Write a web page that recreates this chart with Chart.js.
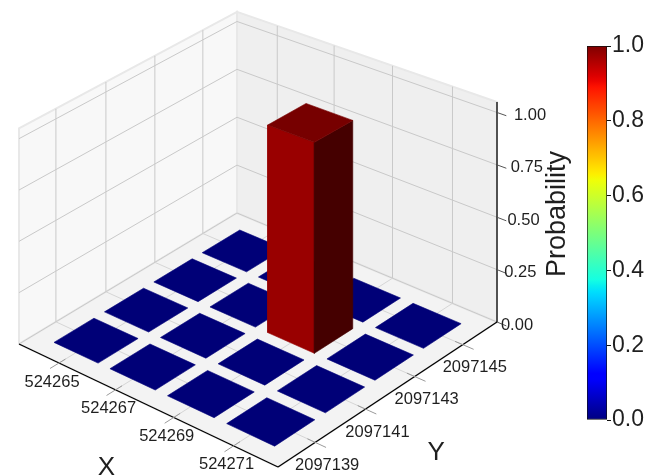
<!DOCTYPE html>
<html>
<head>
<meta charset="utf-8">
<title>Measured probability distribution</title>
<script src="https://cdn.jsdelivr.net/npm/chart.js@4.4.1/dist/chart.umd.min.js"></script>
<style>
  html, body { margin: 0; padding: 0; background: #ffffff; }
  #wrap { position: relative; width: 649px; height: 475px; overflow: hidden; background: #ffffff; }
  #main { position: absolute; left: 0; top: 0; }
  #cbar { position: absolute; left: 580px; top: 0; }
</style>
</head>
<body>
<div id="wrap">
  <canvas id="main" width="649" height="475"></canvas>
  <canvas id="cbar" width="69" height="475"></canvas>
</div>
<script>
// ---------------- data ----------------
const xStates = [524265, 524267, 524269, 524271];
const yStates = [2097139, 2097141, 2097143, 2097145];
// probability of each X state, one row per Y state
const probAtY2097139 = [0, 0, 0, 0];
const probAtY2097141 = [0, 0, 0, 0];
const probAtY2097143 = [0, 0, 1.0, 0];
const probAtY2097145 = [0, 0, 0, 0];
const probRows = [probAtY2097139, probAtY2097141, probAtY2097143, probAtY2097145];
const zTicks = [0, 0.25, 0.5, 0.75, 1.0];
const cbarTicks = [0, 0.2, 0.4, 0.6, 0.8, 1.0];

// ---------------- layout & style ----------------
const barWidth = 1.58;                      // footprint of each column, in state units
const xLim = [524263.55, 524272.45];
const yLim = [2097137.55, 2097146.45];
const zLim = [0, 1.05];
const cbarRange = [0, 1];
// floor corners of the 3D box in plot units: (xmin,ymin) (xmax,ymin) (xmax,ymax) (xmin,ymax)
const floorL = [19, 344], floorB = [278, 467], floorR = [497, 322], floorK = [237, 213];
const heightAtR = 220;                      // length of the z axis at the (xmax,ymax) corner
const depthPower = 1.5;
const FONT = '"Liberation Sans", Arial, Helvetica, sans-serif';
const TEXT = '#1f1f1f';

// jet colour map
const jetR = [[0, 0], [0.35, 0], [0.66, 1], [0.89, 1], [1, 0.5]];
const jetG = [[0, 0], [0.125, 0], [0.375, 1], [0.64, 1], [0.91, 0], [1, 0]];
const jetB = [[0, 0.5], [0.11, 1], [0.34, 1], [0.65, 0], [1, 0]];
function lerpTable(tab, t) {
  for (let i = 1; i < tab.length; i++) {
    if (t <= tab[i][0]) {
      const [t0, v0] = tab[i - 1], [t1, v1] = tab[i];
      return v0 + (v1 - v0) * (t - t0) / (t1 - t0);
    }
  }
  return tab[tab.length - 1][1];
}
function jet(t, shade = 1) {
  t = Math.min(1, Math.max(0, t));
  const c = [jetR, jetG, jetB].map(tab => Math.round(Math.min(255, 255 * lerpTable(tab, t) * shade)));
  return `rgb(${c[0]},${c[1]},${c[2]})`;
}
const faceShade = { top: 0.93, front: 1.2, side: 0.54 };

// ---------------- 3D projection ----------------
function squareToQuad(p0, p1, p2, p3) {
  const [x0, y0] = p0, [x1, y1] = p1, [x2, y2] = p2, [x3, y3] = p3;
  const dx1 = x1 - x2, dx2 = x3 - x2, dx3 = x0 - x1 + x2 - x3;
  const dy1 = y1 - y2, dy2 = y3 - y2, dy3 = y0 - y1 + y2 - y3;
  const den = dx1 * dy2 - dx2 * dy1;
  const g = (dx3 * dy2 - dx2 * dy3) / den;
  const h = (dx1 * dy3 - dx3 * dy1) / den;
  return { a: x1 - x0 + g * x1, b: x3 - x0 + h * x3, c: x0,
           d: y1 - y0 + g * y1, e: y3 - y0 + h * y3, f: y0, g, h };
}
const H = squareToQuad(floorL, floorB, floorR, floorK);
const heightScale = heightAtR * Math.pow(1 + H.g + H.h, depthPower);

function project(x, y, z) {
  const u = (x - xLim[0]) / (xLim[1] - xLim[0]);
  const v = (y - yLim[0]) / (yLim[1] - yLim[0]);
  const w = H.g * u + H.h * v + 1;
  const px = (H.a * u + H.b * v + H.c) / w;
  const py = (H.d * u + H.e * v + H.f) / w;
  const zz = (z - zLim[0]) / (zLim[1] - zLim[0]);
  return { x: px, y: py - zz * heightScale / Math.pow(w, depthPower) };
}

// ---------------- datasets ----------------
const layers = [];   // painter's order: first entry is drawn first
function polygon(pts3, fillColor, edgeColor, edgeWidth) {
  const pts = pts3.map(p => project(p[0], p[1], p[2]));
  pts.push(pts[0]);
  layers.push({
    data: pts,
    fill: 'shape',
    backgroundColor: fillColor,
    borderColor: edgeColor,
    borderWidth: edgeWidth,
    pointRadius: 0,
    tension: 0
  });
}
function segment(a, b, color, width) {
  layers.push({
    data: [project(a[0], a[1], a[2]), project(b[0], b[1], b[2])],
    fill: false,
    borderColor: color,
    borderWidth: width,
    pointRadius: 0,
    tension: 0
  });
}

const [x0, x1] = xLim, [y0, y1] = yLim, [z0, z1] = zLim;
// panes
polygon([[x0, y0, z0], [x0, y1, z0], [x0, y1, z1], [x0, y0, z1]], '#f8f8f8', '#e8e8e8', 2);
polygon([[x0, y1, z0], [x1, y1, z0], [x1, y1, z1], [x0, y1, z1]], '#efefef', '#e8e8e8', 2);
polygon([[x0, y0, z0], [x1, y0, z0], [x1, y1, z0], [x0, y1, z0]], '#f3f3f3', '#e8e8e8', 2);

// grid lines
const gridColor = '#c9c9c9';
yStates.forEach(yv => segment([x0, yv, z0], [x0, yv, z1], gridColor, 1));
zTicks.forEach(zv => segment([x0, y0, zv], [x0, y1, zv], gridColor, 1));
xStates.forEach(xv => segment([xv, y1, z0], [xv, y1, z1], gridColor, 1));
zTicks.forEach(zv => segment([x0, y1, zv], [x1, y1, zv], gridColor, 1));
xStates.forEach(xv => segment([xv, y0, z0], [xv, y1, z0], '#d6d6d6', 1));
yStates.forEach(yv => segment([x0, yv, z0], [x1, yv, z0], '#d6d6d6', 1));

// columns: flat ones first, then tall ones, each group far to near
const cells = [];
probRows.forEach((row, j) => row.forEach((p, i) => cells.push({ i, j, p })));
cells.sort((a, b) => {
  const ta = a.p > 0 ? 1 : 0, tb = b.p > 0 ? 1 : 0;
  if (ta !== tb) return ta - tb;
  return (b.j - b.i) - (a.j - a.i);
});
cells.forEach(({ i, j, p }) => {
  const xa = xStates[i] - barWidth / 2, xb = xStates[i] + barWidth / 2;
  const ya = yStates[j] - barWidth / 2, yb = yStates[j] + barWidth / 2;
  const t = (p - cbarRange[0]) / (cbarRange[1] - cbarRange[0]);
  if (p > 0) {
    const cf = jet(t, faceShade.front), cs = jet(t, faceShade.side);
    polygon([[xa, ya, 0], [xb, ya, 0], [xb, ya, p], [xa, ya, p]], cf, cf, 0.6);
    polygon([[xb, ya, 0], [xb, yb, 0], [xb, yb, p], [xb, ya, p]], cs, cs, 0.6);
  }
  const ct = jet(t, faceShade.top);
  polygon([[xa, ya, p], [xb, ya, p], [xb, yb, p], [xa, yb, p]], ct, ct, 0.6);
});

// axis lines and ticks
segment([x0, y0, 0], [x1, y0, 0], '#000000', 1.3);
segment([x1, y0, 0], [x1, y1, 0], '#000000', 1.3);
segment([x1, y1, z0], [x1, y1, z1], '#000000', 1.3);
xStates.forEach(xv => segment([xv, y0 + 0.25, 0], [xv, y0 - 0.35, 0], '#9a9a9a', 1));
yStates.forEach(yv => segment([x1 - 0.25, yv, 0], [x1 + 0.35, yv, 0], '#9a9a9a', 1));
zTicks.forEach(zv => segment([x1, y1, zv], [x1 + 0.3, y1, zv], '#555555', 1));

const datasets = layers.map((d, k) => Object.assign(d, { order: layers.length - k }));

// ---------------- text on the 3D axes ----------------
const axisText = {
  id: 'axisText',
  afterDatasetsDraw(chart) {
    const { ctx } = chart;
    const sx = chart.scales.x, sy = chart.scales.y;
    const at = (x, y, z) => {
      const p = project(x, y, z);
      return { x: sx.getPixelForValue(p.x), y: sy.getPixelForValue(p.y) };
    };
    ctx.save();
    ctx.fillStyle = TEXT;
    ctx.textAlign = 'center';
    ctx.textBaseline = 'middle';
    ctx.font = `16.5px ${FONT}`;
    xStates.forEach(xv => {
      const p = at(xv, y0, 0);
      ctx.fillText(String(xv), p.x - 7, p.y + 19);
    });
    yStates.forEach(yv => {
      const p = at(x1, yv, 0);
      ctx.fillText(String(yv), p.x + 12, p.y + 23);
    });
    zTicks.forEach(zv => {
      const p = at(x1, y1, zv);
      ctx.fillText(zv.toFixed(2), p.x + 20 + 13 * zv, p.y + 3);
    });
    ctx.font = `26px ${FONT}`;
    const xm = at((x0 + x1) / 2, y0, 0);
    ctx.fillText('X', xm.x - 38, xm.y + 64);
    const ym = at(x1, (y0 + y1) / 2, 0);
    ctx.fillText('Y', ym.x + 46, ym.y + 60);
    const zm = at(x1, y1, (z0 + z1) / 2);
    ctx.font = `27px ${FONT}`;
    ctx.translate(zm.x + 61, zm.y + 2);
    ctx.rotate(-Math.PI / 2);
    ctx.fillText('Probability', 0, 0);
    ctx.restore();
  }
};

new Chart(document.getElementById('main'), {
  type: 'line',
  data: { datasets },
  options: {
    responsive: false,
    animation: false,
    devicePixelRatio: 1,
    events: [],
    layout: { padding: 0 },
    plugins: { legend: { display: false }, tooltip: { enabled: false } },
    scales: {
      x: { type: 'linear', min: 0, max: 649, display: false },
      y: { type: 'linear', min: 0, max: 475, reverse: true, display: false }
    }
  },
  plugins: [axisText]
});

// ---------------- colour bar ----------------
new Chart(document.getElementById('cbar'), {
  type: 'bar',
  data: {
    labels: ['Probability'],
    datasets: [{
      data: [[cbarRange[0], cbarRange[1]]],
      backgroundColor(c) {
        const area = c.chart.chartArea;
        if (!area) return jet(0.5);
        const g = c.chart.ctx.createLinearGradient(0, area.bottom, 0, area.top);
        for (let k = 0; k <= 64; k++) g.addColorStop(k / 64, jet(k / 64));
        return g;
      },
      borderColor: '#111111',
      borderWidth: 1,
      borderSkipped: false,
      barPercentage: 1,
      categoryPercentage: 1
    }]
  },
  options: {
    responsive: false,
    animation: false,
    devicePixelRatio: 1,
    events: [],
    layout: { padding: { left: 7, right: 0, top: 46, bottom: 55 } },
    plugins: { legend: { display: false }, tooltip: { enabled: false } },
    scales: {
      x: { display: false },
      y: {
        position: 'right',
        min: cbarRange[0],
        max: cbarRange[1],
        afterFit(scale) { scale.width = 42; },
        afterBuildTicks(scale) { scale.ticks = cbarTicks.map(v => ({ value: v })); },
        border: { display: false },
        grid: { drawOnChartArea: false, drawTicks: true, tickLength: 4, color: '#111111', lineWidth: 1 },
        ticks: {
          padding: 1,
          color: TEXT,
          font: { family: FONT, size: 23 },
          callback: v => Number(v).toFixed(1)
        }
      }
    }
  }
});
</script>
</body>
</html>
